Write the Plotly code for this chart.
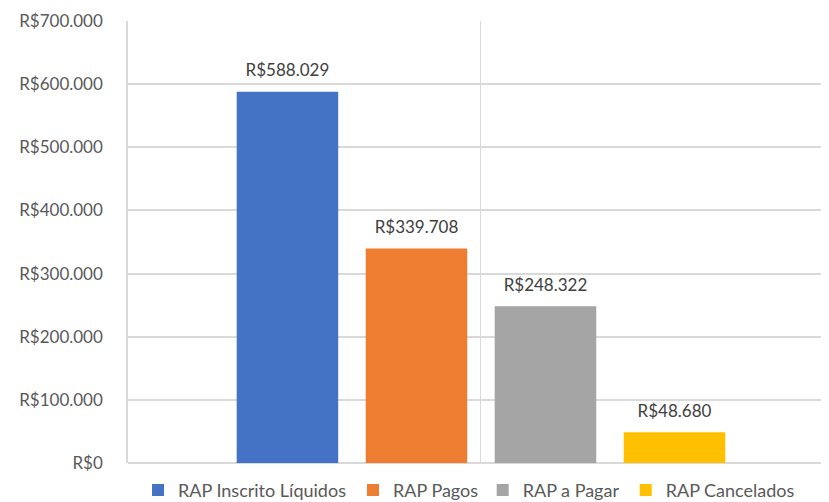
import plotly.graph_objects as go

# dados
series = ["RAP Inscrito Líquidos", "RAP Pagos", "RAP a Pagar", "RAP Cancelados"]
values = [588029, 339708, 248322, 48680]
colors = ["#4472C4", "#ED7D31", "#A5A5A5", "#FFC000"]

y_ticks = [0, 100000, 200000, 300000, 400000, 500000, 600000, 700000]
y_ticktext = ["R$0", "R$100.000", "R$200.000", "R$300.000",
              "R$400.000", "R$500.000", "R$600.000", "R$700.000"]

FONT = "Lato, sans-serif"
legend_x = [0.0143, 0.321, 0.506, 0.710]

fig = go.Figure()
for i, (name, val, col) in enumerate(zip(series, values, colors)):
    leg = "legend" if i == 0 else f"legend{i + 1}"
    fig.add_trace(go.Bar(
        x=[""], y=[val], name=name, offsetgroup=str(i),
        marker=dict(color=col, line=dict(width=0)),
        legend=leg, hoverinfo="skip",
    ))
    # rótulos de dados (scatter agrupado para ter um afastamento da barra)
    fig.add_trace(go.Scatter(
        x=[""], y=[val], offsetgroup=str(i), mode="markers+text",
        marker=dict(size=16, color="rgba(0,0,0,0)"),
        text=[f"R${val:,.0f}".replace(",", ".")],
        textposition="top center",
        textfont=dict(size=17, color="#404040", family=FONT),
        showlegend=False, hoverinfo="skip", cliponaxis=False,
    ))

# a página tem margem de 8px no body, por isso a figura é um pouco menor
fig.update_layout(
    width=821, height=494,
    margin=dict(l=120, r=0, t=13, b=39, autoexpand=False),
    paper_bgcolor="white", plot_bgcolor="white",
    barmode="group", bargap=0.269, bargroupgap=0.213,
    scattermode="group", scattergap=0.269,
    font=dict(family=FONT, color="#595959", size=17),
)
for i in range(4):
    key = "legend" if i == 0 else f"legend{i + 1}"
    fig.update_layout({key: dict(orientation="h", x=legend_x[i], xanchor="left",
                                 y=-0.02, yanchor="top", itemwidth=30,
                                 font=dict(size=18, color="#595959"))})

fig.update_xaxes(range=[-0.5, 0.493], showgrid=True, gridcolor="#d9d9d9", gridwidth=1,
                 showticklabels=False, showline=False, zeroline=False, automargin=False)
fig.update_yaxes(range=[0, 700000], tickvals=y_ticks, ticktext=y_ticktext,
                 showgrid=True, gridcolor="#d9d9d9", gridwidth=1.5,
                 showline=True, linecolor="#d9d9d9", linewidth=1.5,
                 zeroline=True, zerolinecolor="#d9d9d9", zerolinewidth=1.5,
                 ticks="", ticklabelstandoff=20, automargin=False,
                 tickfont=dict(size=17, color="#595959"))

fig.write_html("out.html")
